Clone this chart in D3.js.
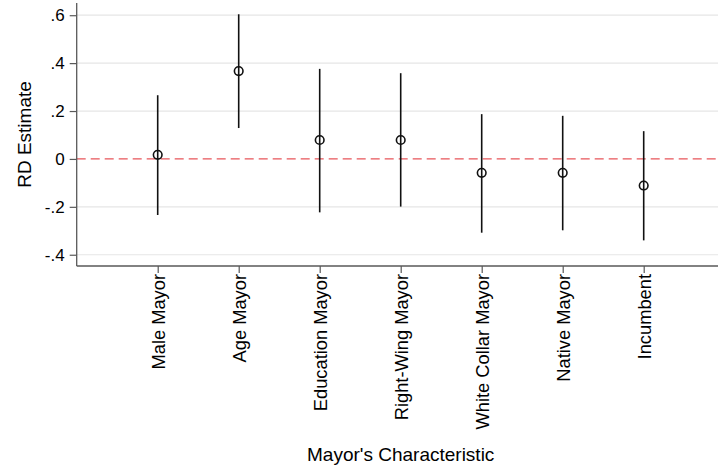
<!DOCTYPE html>
<html>
<head>
<meta charset="utf-8">
<script src="https://cdn.jsdelivr.net/npm/d3@7"></script>
<style>
  html, body { margin: 0; padding: 0; background: #fff; }
  svg { display: block; font-family: "Liberation Sans", Arial, sans-serif; }
</style>
</head>
<body>
<svg id="chart" width="718" height="467"></svg>
<script>
// RD estimates with confidence intervals for each mayor characteristic
const categories = ["Male Mayor", "Age Mayor", "Education Mayor", "Right-Wing Mayor",
                    "White Collar Mayor", "Native Mayor", "Incumbent"];
const estimates = [0.017, 0.367, 0.079, 0.079, -0.058, -0.058, -0.111];
const ciLower   = [-0.234, 0.129, -0.223, -0.199, -0.308, -0.298, -0.340];
const ciUpper   = [0.266, 0.604, 0.376, 0.358, 0.187, 0.180, 0.116];
const yTicks    = [-0.4, -0.2, 0, 0.2, 0.4, 0.6];
const yTickLabels = ["-.4", "-.2", "0", ".2", ".4", ".6"];

const svg = d3.select("#chart");
const W = 718, H = 467;
const plotLeft = 76.7, plotTop = 3, plotBottom = 266;

// positions 1..7 on a 0..8 scale
const x = d3.scaleLinear().domain([0, categories.length + 1]).range([plotLeft, plotLeft + 81 * 8]);
const y = d3.scaleLinear().domain([-0.447, 0.651]).range([plotBottom, plotTop]);

// horizontal grid
svg.append("g")
  .selectAll("line")
  .data(yTicks.filter(d => d !== 0))
  .join("line")
  .attr("x1", plotLeft).attr("x2", W)
  .attr("y1", d => y(d)).attr("y2", d => y(d))
  .attr("stroke", "#e6e6e6").attr("stroke-width", 1.2);

// reference line at zero
svg.append("line")
  .attr("x1", plotLeft).attr("x2", W)
  .attr("y1", y(0)).attr("y2", y(0))
  .attr("stroke", "#e8555a").attr("stroke-width", 1.3)
  .attr("stroke-dasharray", "9,5");

// y axis
const yAxis = d3.axisLeft(y)
  .tickValues(yTicks)
  .tickFormat((d, i) => yTickLabels[i])
  .tickSize(7).tickPadding(5);
const gy = svg.append("g").attr("transform", `translate(${plotLeft},0)`).call(yAxis);
gy.select(".domain").attr("d", `M0,${plotTop}V${plotBottom}`).attr("stroke", "#595959").attr("stroke-width", 1.3);
gy.selectAll(".tick line").attr("stroke", "#595959").attr("stroke-width", 1.2);
gy.selectAll(".tick text").attr("font-size", 17).attr("fill", "#000")
  .attr("font-family", "'Liberation Sans', Arial, sans-serif");

// x axis
const xAxis = d3.axisBottom(x)
  .tickValues(d3.range(1, categories.length + 1))
  .tickFormat(d => categories[d - 1])
  .tickSize(7).tickPadding(5);
const gx = svg.append("g").attr("transform", `translate(0,${plotBottom})`).call(xAxis);
gx.select(".domain").attr("d", `M${plotLeft},0H${W}`).attr("stroke", "#595959").attr("stroke-width", 1.3);
gx.selectAll(".tick line").attr("stroke", "#595959").attr("stroke-width", 1.2);
gx.selectAll(".tick text")
  .attr("font-size", 18.3).attr("fill", "#000")
  .attr("font-family", "'Liberation Sans', Arial, sans-serif")
  .attr("text-anchor", "end")
  .attr("transform", "rotate(-90)")
  .attr("x", -8).attr("y", 0).attr("dy", "0.35em");

// confidence intervals
const idx = d3.range(categories.length);
svg.append("g")
  .selectAll("line")
  .data(idx)
  .join("line")
  .attr("x1", i => x(i + 1)).attr("x2", i => x(i + 1))
  .attr("y1", i => y(ciUpper[i])).attr("y2", i => y(ciLower[i]))
  .attr("stroke", "#111").attr("stroke-width", 1.6);

// point estimates
svg.append("g")
  .selectAll("circle")
  .data(idx)
  .join("circle")
  .attr("cx", i => x(i + 1)).attr("cy", i => y(estimates[i]))
  .attr("r", 4.3)
  .attr("fill", "none").attr("stroke", "#111").attr("stroke-width", 1.6);

// axis titles
svg.append("text")
  .attr("x", x((categories.length + 1) / 2)).attr("y", 461)
  .attr("text-anchor", "middle").attr("font-size", 19).attr("fill", "#000")
  .text("Mayor's Characteristic");

svg.append("text")
  .attr("transform", `translate(31,${(plotTop + plotBottom) / 2}) rotate(-90)`)
  .attr("text-anchor", "middle").attr("font-size", 19).attr("fill", "#000")
  .text("RD Estimate");
</script>
</body>
</html>
